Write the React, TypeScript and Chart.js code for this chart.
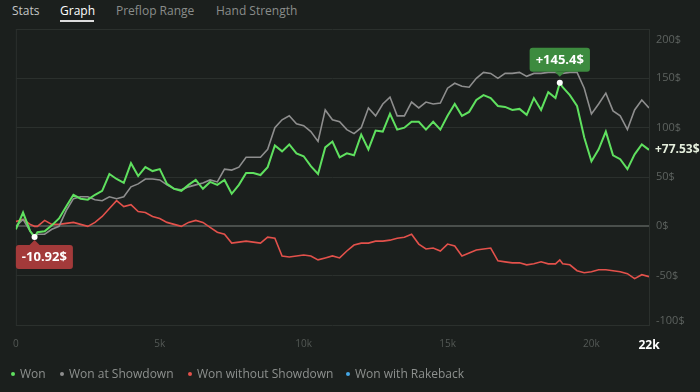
import React, { useEffect, useRef } from 'react';
import { Chart, registerables } from 'chart.js';

Chart.register(...registerables);

// ---------- data ----------
const hands = [
  0, 250, 500, 650, 750, 1000, 1250, 1500, 1750, 2000, 2250, 2500, 2750, 3000, 3250, 3500, 3750, 4000,
  4250, 4500, 4750, 5000, 5250, 5500, 5750, 6000, 6250, 6500, 6750, 7000, 7250, 7500, 7750, 8000, 8250,
  8500, 8750, 9000, 9250, 9500, 9750, 10000, 10250, 10500, 10750, 11000, 11250, 11500, 11750, 12000,
  12250, 12500, 12750, 13000, 13250, 13500, 13750, 14000, 14250, 14500, 14750, 15000, 15250, 15500,
  15750, 16000, 16250, 16500, 16750, 17000, 17250, 17500, 17750, 18000, 18250, 18500, 18750, 18900,
  19000, 19250, 19500, 19750, 20000, 20250, 20500, 20750, 21000, 21250, 21500, 21750, 22000,
];

const won = [
  -3, 14, -5, -10.92, -6, -5, 1, 8, 20, 32, 28, 27, 32, 36, 53, 48, 44, 64, 51, 60, 56, 58, 43, 38, 36,
  42, 47, 38, 45, 42, 47, 33, 42, 54, 54, 52, 60, 82, 76, 83, 74, 71, 61, 53, 80, 86, 70, 74, 72, 93,
  78, 97, 96, 114, 98, 100, 106, 106, 98, 106, 98, 112, 124, 112, 116, 128, 133, 130, 122, 121, 118,
  119, 113, 130, 118, 136, 130, 145.4, 141, 133, 122, 90, 66, 78, 96, 72, 68, 58, 73, 83, 77.53,
];

const wonAtShowdown = [
  0, 7, -5, -10, -8, -8, -3, 0, 16, 28, 30, 30, 27, 26, 30, 28, 30, 40, 43, 48, 48, 47, 42, 38, 37,
  40, 42, 44, 47, 45, 58, 57, 60, 70, 70, 70, 78, 100, 108, 112, 104, 102, 96, 86, 118, 108, 106, 98,
  94, 100, 120, 112, 124, 131, 112, 112, 126, 120, 126, 124, 125, 140, 145, 142, 141, 150, 156, 155,
  150, 155, 155, 156, 152, 155, 155, 156, 156, 155, 155, 156, 156, 140, 114, 124, 135, 117, 112, 98,
  118, 128, 120,
];

const wonWithoutShowdown = [
  5, 7, 2, 0, 0, 6, 2, 2, 3, 4, 2, 0, 4, 10, 18, 26, 20, 22, 15, 14, 10, 8, 4, 2, 0, 4, 6, 4, -1, -6,
  -8, -17, -16, -15, -16, -17, -11, -12, -30, -31, -30, -29, -30, -34, -32, -30, -32, -25, -19, -17,
  -17, -15, -15, -14, -12, -11, -8, -18, -23, -22, -25, -18, -20, -30, -27, -24, -23, -22, -35, -36,
  -37, -37, -39, -38, -36, -38, -38, -34, -38, -39, -45, -47, -46, -44, -44, -45, -46, -48, -53, -49,
  -51,
];

const wonWithRakeback: number[] = [];

const xTickValues = [0, 5000, 10000, 15000, 20000, 22000];
const yTickValues = [-100, -50, 0, 50, 100, 150, 200];
const seriesNames = ['Won', 'Won at Showdown', 'Won without Showdown', 'Won with Rakeback'];
const seriesColors = ['#5fe05f', '#8e8e8e', '#e3514b', '#44a7e6'];
const tabNames = ['Stats', 'Graph', 'Preflop Range', 'Hand Strength'];

// ---------- helpers ----------
const BG = '#1b1f1d';
const GRID = '#2b302d';
const FONT = '"Open Sans", "Noto Sans", sans-serif';

const fmtHands = (v: number) => (v === 0 ? '0' : `${v / 1000}k`);
const fmtMoney = (v: number) => `${v > 0 ? '+' : ''}${v}$`;

function roundRect(ctx: CanvasRenderingContext2D, x: number, y: number, w: number, h: number, r: number) {
  ctx.beginPath();
  ctx.moveTo(x + r, y);
  ctx.lineTo(x + w - r, y);
  ctx.quadraticCurveTo(x + w, y, x + w, y + r);
  ctx.lineTo(x + w, y + h - r);
  ctx.quadraticCurveTo(x + w, y + h, x + w - r, y + h);
  ctx.lineTo(x + r, y + h);
  ctx.quadraticCurveTo(x, y + h, x, y + h - r);
  ctx.lineTo(x, y + r);
  ctx.quadraticCurveTo(x, y, x + r, y);
  ctx.closePath();
}

function bubble(
  ctx: CanvasRenderingContext2D,
  area: { left: number; right: number },
  px: number,
  py: number,
  text: string,
  color: string,
  above: boolean
) {
  ctx.save();
  ctx.font = `bold 13px ${FONT}`;
  const w = ctx.measureText(text).width + 12;
  const h = 24;
  let bx = px - w / 2;
  if (bx < area.left) bx = area.left;
  if (bx + w > area.right) bx = area.right - w;
  const by = above ? py - 11 - h : py + 8;
  ctx.fillStyle = color;
  roundRect(ctx, bx, by, w, h, 3);
  ctx.fill();
  ctx.beginPath();
  if (above) {
    ctx.moveTo(px - 5, by + h);
    ctx.lineTo(px + 5, by + h);
    ctx.lineTo(px, by + h + 5);
  } else {
    ctx.moveTo(px - 5, by);
    ctx.lineTo(px + 5, by);
    ctx.lineTo(px, by - 5);
  }
  ctx.closePath();
  ctx.fill();
  ctx.fillStyle = '#ffffff';
  ctx.textAlign = 'center';
  ctx.textBaseline = 'middle';
  ctx.fillText(text, bx + w / 2, by + h / 2 + 0.5);
  ctx.beginPath();
  ctx.arc(px, py, 3, 0, Math.PI * 2);
  ctx.fill();
  ctx.restore();
}

const framePlugin = {
  id: 'frame',
  beforeDatasetsDraw(chart: any) {
    const { ctx, chartArea } = chart;
    ctx.save();
    ctx.strokeStyle = GRID;
    ctx.lineWidth = 1;
    ctx.beginPath();
    ctx.moveTo(chartArea.left + 0.5, chartArea.top);
    ctx.lineTo(chartArea.left + 0.5, chartArea.bottom);
    ctx.stroke();
    ctx.restore();
  },
  afterDraw(chart: any) {
    const { ctx, chartArea } = chart;
    const y = chart.scales.y;
    ctx.save();
    ctx.font = `11px ${FONT}`;
    ctx.fillStyle = '#5d625f';
    ctx.textAlign = 'left';
    ctx.textBaseline = 'middle';
    yTickValues.forEach((v) => {
      let py = y.getPixelForValue(v);
      py = Math.max(chartArea.top + 11, Math.min(chartArea.bottom - 4, py));
      ctx.fillText(`${v}$`, chartArea.right + 7, py);
    });
    ctx.restore();
  },
};

const annotationPlugin = {
  id: 'annotations',
  afterDatasetsDraw(chart: any) {
    const { ctx, chartArea } = chart;
    const xs = chart.scales.x;
    const ys = chart.scales.y;
    let minI = 0;
    let maxI = 0;
    won.forEach((v, i) => {
      if (v < won[minI]) minI = i;
      if (v > won[maxI]) maxI = i;
    });
    bubble(ctx, chartArea, xs.getPixelForValue(hands[maxI]), ys.getPixelForValue(won[maxI]), fmtMoney(won[maxI]), '#3d8b3f', true);
    bubble(ctx, chartArea, xs.getPixelForValue(hands[minI]), ys.getPixelForValue(won[minI]), fmtMoney(won[minI]), '#a33a3a', false);
    const last = won.length - 1;
    ctx.save();
    ctx.font = `bold 12px ${FONT}`;
    ctx.fillStyle = '#e4eedc';
    ctx.textAlign = 'left';
    ctx.textBaseline = 'middle';
    ctx.fillText(fmtMoney(won[last]), chartArea.right + 6, ys.getPixelForValue(won[last]));
    ctx.restore();
  },
};

export default function App() {
  const canvasRef = useRef<HTMLCanvasElement | null>(null);

  useEffect(() => {
    document.body.style.margin = '0';
    document.body.style.background = BG;
    const canvas = canvasRef.current;
    if (!canvas) return;
    const series = [won, wonAtShowdown, wonWithoutShowdown, wonWithRakeback];
    const chart = new Chart(canvas, {
      type: 'line',
      data: {
        datasets: series.map((arr, si) => ({
          label: seriesNames[si],
          data: arr.map((v, i) => ({ x: hands[i], y: v })),
          borderColor: seriesColors[si],
          backgroundColor: seriesColors[si],
          borderWidth: si === 0 ? 2 : 1.6,
          pointRadius: 0,
          tension: 0,
          fill: false,
        })),
      },
      options: {
        animation: false,
        responsive: false,
        maintainAspectRatio: false,
        layout: { padding: { top: 29, left: 12, right: 0, bottom: 0 } },
        plugins: { legend: { display: false }, tooltip: { enabled: false } },
        scales: {
          x: {
            type: 'linear',
            min: 0,
            max: 22000,
            grid: { display: false, drawTicks: false },
            border: { display: false },
            afterBuildTicks: (s: any) => {
              s.ticks = xTickValues.map((v) => ({ value: v }));
            },
            afterFit: (s: any) => {
              s.height = 67;
            },
            ticks: {
              padding: 13,
              autoSkip: false,
              maxRotation: 0,
              callback: (v: any) => fmtHands(Number(v)),
              color: (c: any) => (c.tick && c.tick.value === 22000 ? '#ffffff' : '#545956'),
              font: (c: any) =>
                c.tick && c.tick.value === 22000
                  ? { family: FONT, size: 12, weight: 'bold' }
                  : { family: FONT, size: 10 },
            },
          },
          y: {
            type: 'linear',
            position: 'right',
            min: -100,
            max: 200,
            afterBuildTicks: (s: any) => {
              s.ticks = yTickValues.map((v) => ({ value: v }));
            },
            afterFit: (s: any) => {
              s.width = 51;
            },
            ticks: { display: false },
            grid: {
              drawTicks: false,
              color: (c: any) => (c.tick && c.tick.value === 0 ? '#4a4f4c' : GRID),
              lineWidth: (c: any) => (c.tick && c.tick.value === 0 ? 2 : 1),
            },
            border: { display: true, color: GRID },
          },
        },
      },
      plugins: [framePlugin, annotationPlugin],
    } as any);
    return () => chart.destroy();
  }, []);

  const tabLeft = [12, 60, 116, 216];
  const tabColor = ['#c4c6c5', '#ffffff', '#8a8d8b', '#8a8d8b'];
  const legendLeft = [11, 60, 188, 346];

  return (
    <div style={{ position: 'relative', width: 700, height: 392, background: BG, overflow: 'hidden', fontFamily: FONT }}>
      {tabNames.map((t, i) => (
        <div
          key={t}
          style={{ position: 'absolute', left: tabLeft[i], top: 2, fontSize: 12, lineHeight: '18px', color: tabColor[i], whiteSpace: 'nowrap' }}
        >
          {t}
        </div>
      ))}
      <div style={{ position: 'absolute', left: 60, top: 20, width: 34, height: 2, background: '#dcdcdc' }} />
      <canvas ref={canvasRef} width={700} height={392} style={{ position: 'absolute', left: 0, top: 0, width: 700, height: 392 }} />
      {seriesNames.map((n, i) => (
        <div
          key={n}
          style={{ position: 'absolute', left: legendLeft[i], top: 365, display: 'flex', alignItems: 'center', fontSize: 12, lineHeight: '18px', color: '#8d908e', whiteSpace: 'nowrap' }}
        >
          <span style={{ display: 'inline-block', width: 4, height: 4, borderRadius: 2, background: seriesColors[i], marginRight: 5 }} />
          {n}
        </div>
      ))}
    </div>
  );
}
